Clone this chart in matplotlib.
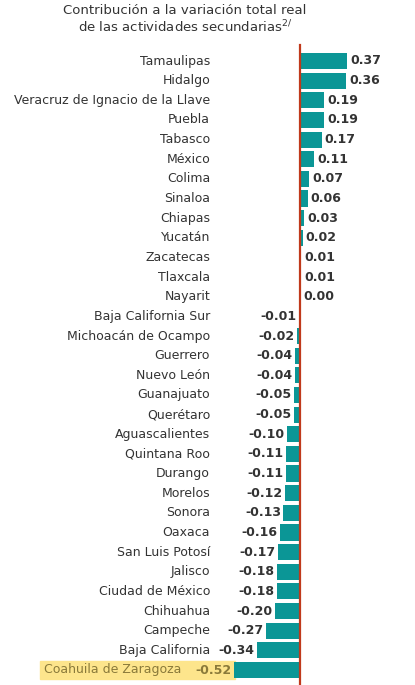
import matplotlib.pyplot as plt
from matplotlib.patches import Rectangle

states = ['Tamaulipas', 'Hidalgo', 'Veracruz de Ignacio de la Llave', 'Puebla', 'Tabasco',
          'México', 'Colima', 'Sinaloa', 'Chiapas', 'Yucatán', 'Zacatecas', 'Tlaxcala',
          'Nayarit', 'Baja California Sur', 'Michoacán de Ocampo', 'Guerrero', 'Nuevo León',
          'Guanajuato', 'Querétaro', 'Aguascalientes', 'Quintana Roo', 'Durango', 'Morelos',
          'Sonora', 'Oaxaca', 'San Luis Potosí', 'Jalisco', 'Ciudad de México', 'Chihuahua',
          'Campeche', 'Baja California', 'Coahuila de Zaragoza']
values = [0.37, 0.36, 0.19, 0.19, 0.17, 0.11, 0.07, 0.06, 0.03, 0.02, 0.01, 0.01,
          0.00, -0.01, -0.02, -0.04, -0.04, -0.05, -0.05, -0.10, -0.11, -0.11, -0.12,
          -0.13, -0.16, -0.17, -0.18, -0.18, -0.20, -0.27, -0.34, -0.52]
highlight = 'Coahuila de Zaragoza'

W, H = 415, 685
x0, scale = 300, 127.0
y_first, step = 61, (670 - 61) / (len(states) - 1)
fs = 9.0

fig = plt.figure(figsize=(W / 100, H / 100), dpi=100)
ax = fig.add_axes([0, 0, 1, 1])
ax.set_xlim(-x0 / scale, (W - x0) / scale)
ax.set_ylim((H - y_first) / step, -y_first / step)
ax.axis('off')

teal = '#0b9696'
label_x = (210 - x0) / scale
for i, (s, v) in enumerate(zip(states, values)):
    ax.barh(i, v, height=0.82, color=teal)
    txt = f'{v:.2f}'
    if v >= 0:
        ax.text(v + 0.025, i, txt, ha='left', va='center', fontsize=fs,
                fontweight='bold', color='#333333')
    else:
        ax.text(v - 0.02, i, txt, ha='right', va='center', fontsize=fs,
                fontweight='bold', color='#8a7a3a' if s == highlight else '#333333')
    if s == highlight:
        ax.add_patch(Rectangle(((40 - x0) / scale, i - 0.45), (235 - 40) / scale, 0.9,
                               color='#fde58c', zorder=0))
        ax.text((181 - x0) / scale, i, s, ha='right', va='center', fontsize=fs,
                color='#8a7a3a')
    else:
        ax.text(label_x, i, s, ha='right', va='center', fontsize=fs, color='#333333')

ax.plot([0, 0], [(H - y_first) / step, (45 - y_first) / step], color='#c0391b', lw=1.6)

fig.text(185 / W, 1 - 10 / H, 'Contribución a la variación total real', ha='center',
         va='center', fontsize=9.5, color='#333333')
fig.text(185 / W, 1 - 27 / H, 'de las actividades secundarias$^{2/}$', ha='center',
         va='center', fontsize=9.5, color='#333333')

fig.savefig('out.png', dpi=100)
